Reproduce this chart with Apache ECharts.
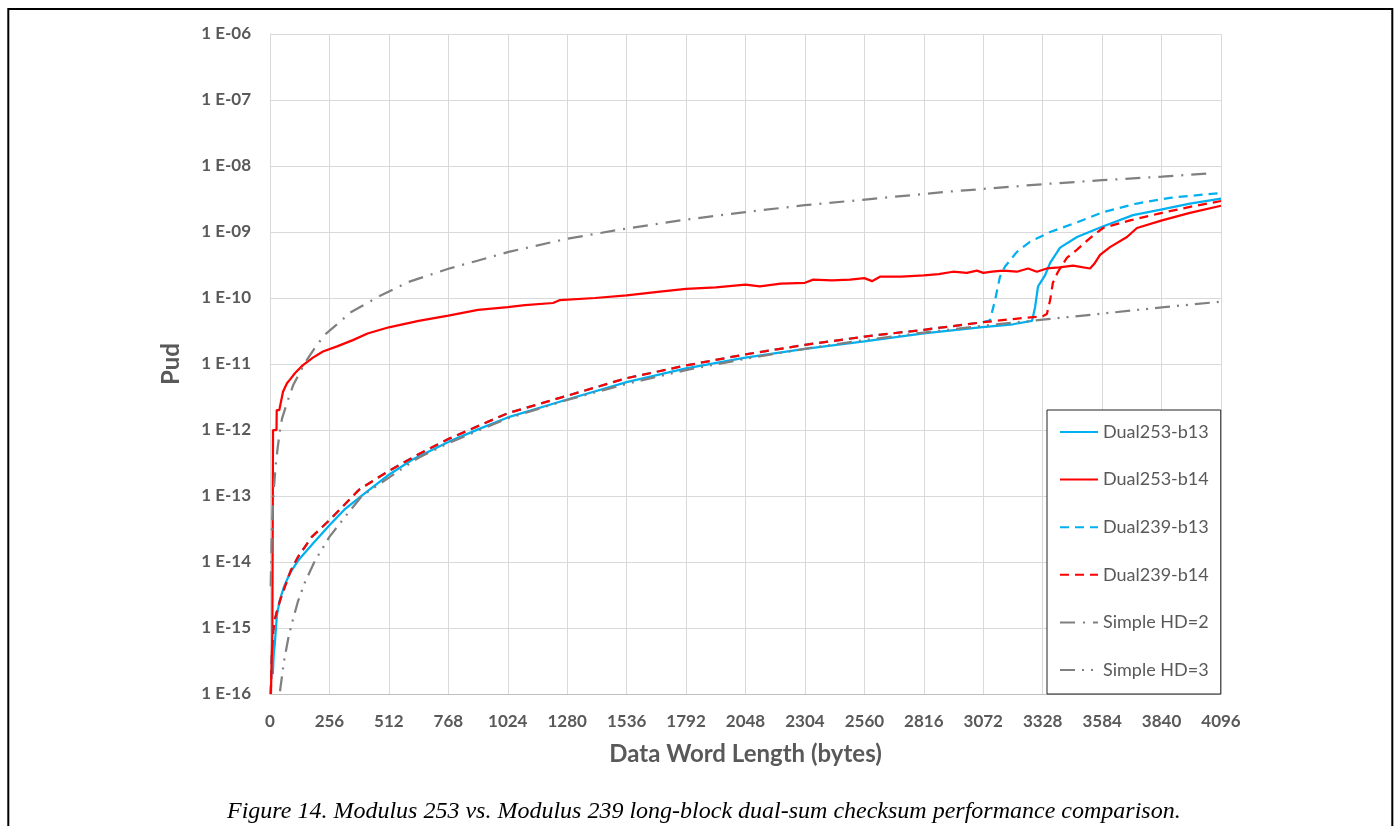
<!DOCTYPE html>
<html>
<head>
<meta charset="utf-8">
<script src="https://cdn.jsdelivr.net/npm/echarts@6/dist/echarts.min.js"></script>
<style>
  html, body { margin: 0; padding: 0; background: #fff; }
  #chart { width: 1397px; height: 826px; }
</style>
</head>
<body>
<div id="chart"></div>
<script>
// values (x = data word length in bytes, y = Pud)
const dual253b13X = [12, 16, 21, 30, 43, 60, 86, 121, 185, 256, 320, 401, 512, 616, 768, 904, 1024, 1280, 1536, 1792, 2048, 2304, 2560, 2816, 3058, 3200, 3282, 3295, 3308, 3338, 3360, 3403, 3476, 3584, 3717, 3842, 3962, 4096];
const dual253b13Y = [2e-16, 4e-16, 6e-16, 1.6e-15, 2.7e-15, 4.2e-15, 6.8e-15, 1.05e-14, 1.9e-14, 3.6e-14, 6.2e-14, 1.05e-13, 2.1e-13, 3.6e-13, 6.6e-13, 1.05e-12, 1.55e-12, 2.9e-12, 5.3e-12, 8.6e-12, 1.25e-11, 1.7e-11, 2.2e-11, 2.9e-11, 3.6e-11, 4.0e-11, 4.5e-11, 7.2e-11, 1.5e-10, 2.2e-10, 3.4e-10, 5.8e-10, 8.4e-10, 1.2e-9, 1.8e-9, 2.2e-9, 2.7e-9, 3.2e-9];

const dual253b14X = [4, 10, 12, 13, 28, 29, 40, 56, 73, 86, 108, 142, 185, 228, 289, 357, 420, 512, 640, 768, 896, 1024, 1098, 1219, 1249, 1400, 1536, 1680, 1792, 1920, 2048, 2110, 2200, 2304, 2340, 2420, 2498, 2560, 2593, 2627, 2720, 2816, 2880, 2942, 3001, 3045, 3072, 3110, 3157, 3217, 3265, 3303, 3346, 3400, 3459, 3532, 3553, 3575, 3618, 3691, 3734, 3842, 3962, 4096];
const dual253b14Y = [1e-16, 8e-16, 1e-13, 1e-12, 1e-12, 2e-12, 2e-12, 3.8e-12, 5.1e-12, 5.8e-12, 7.3e-12, 9.6e-12, 1.25e-11, 1.55e-11, 1.85e-11, 2.3e-11, 2.9e-11, 3.6e-11, 4.5e-11, 5.4e-11, 6.6e-11, 7.3e-11, 7.8e-11, 8.4e-11, 9.3e-11, 1.0e-10, 1.1e-10, 1.25e-10, 1.37e-10, 1.45e-10, 1.6e-10, 1.5e-10, 1.65e-10, 1.7e-10, 1.9e-10, 1.85e-10, 1.9e-10, 2.0e-10, 1.8e-10, 2.1e-10, 2.1e-10, 2.2e-10, 2.3e-10, 2.5e-10, 2.4e-10, 2.6e-10, 2.4e-10, 2.5e-10, 2.6e-10, 2.5e-10, 2.8e-10, 2.5e-10, 2.8e-10, 2.9e-10, 3.1e-10, 2.8e-10, 3.4e-10, 4.5e-10, 5.9e-10, 8.4e-10, 1.15e-9, 1.5e-9, 1.95e-9, 2.5e-9];

const dual239b13X = [3, 8, 14, 22, 30, 43, 65, 90, 121, 180, 256, 384, 512, 640, 768, 1024, 1280, 1536, 1792, 2048, 2304, 2560, 2816, 3072, 3101, 3123, 3144, 3166, 3217, 3273, 3360, 3476, 3588, 3734, 3876, 4096];
const dual239b13Y = [1e-16, 4e-16, 9e-16, 1.4e-15, 1.8e-15, 2.6e-15, 4.3e-15, 7.5e-15, 1.2e-14, 2.4e-14, 4.3e-14, 1.25e-13, 2.4e-13, 4.3e-13, 7.3e-13, 1.8e-12, 3.3e-12, 6.1e-12, 9.5e-12, 1.4e-11, 1.95e-11, 2.6e-11, 3.3e-11, 4.3e-11, 4.6e-11, 9.3e-11, 2.1e-10, 3.0e-10, 5.0e-10, 7.1e-10, 1.0e-9, 1.4e-9, 2.0e-9, 2.7e-9, 3.3e-9, 3.9e-9];

const dual239b14X = [3, 8, 14, 22, 30, 43, 65, 90, 121, 180, 256, 384, 512, 640, 768, 1024, 1280, 1536, 1792, 2048, 2304, 2560, 2816, 3072, 3200, 3328, 3346, 3360, 3372, 3394, 3433, 3476, 3532, 3588, 3704, 3842, 3962, 4096];
const dual239b14Y = [1e-16, 4e-16, 9e-16, 1.4e-15, 1.8e-15, 2.6e-15, 4.3e-15, 7.5e-15, 1.2e-14, 2.4e-14, 4.3e-14, 1.25e-13, 2.4e-13, 4.3e-13, 7.3e-13, 1.8e-12, 3.3e-12, 6.1e-12, 9.5e-12, 1.4e-11, 1.95e-11, 2.6e-11, 3.3e-11, 4.3e-11, 4.8e-11, 5.3e-11, 5.7e-11, 9.3e-11, 1.7e-10, 2.5e-10, 4.1e-10, 5.4e-10, 8.1e-10, 1.15e-9, 1.5e-9, 1.95e-9, 2.4e-9, 2.95e-9];

const hd2X = [3, 8, 16, 24, 32, 43, 52, 75, 100, 151, 200, 237, 300, 345, 400, 467, 596, 772, 897, 1028, 1279, 1536, 1796, 2048, 2304, 2563, 2929, 3328, 3584, 3842, 4064];
const hd2Y = [4.3e-15, 3e-14, 1.2e-13, 2.8e-13, 5e-13, 1e-12, 1.5e-12, 2.7e-12, 4.8e-12, 1.05e-11, 1.9e-11, 2.8e-11, 4.3e-11, 6.0e-11, 7.7e-11, 1.05e-10, 1.75e-10, 2.8e-10, 3.7e-10, 5e-10, 7.9e-10, 1.13e-9, 1.55e-9, 2.0e-9, 2.55e-9, 3.1e-9, 4.1e-9, 5.3e-9, 6.1e-9, 6.9e-9, 7.8e-9];

const hd3X = [43, 60, 80, 95, 120, 150, 194, 256, 330, 396, 512, 640, 768, 1024, 1280, 1536, 1792, 2048, 2304, 2560, 2816, 3072, 3328, 3584, 3840, 4096];
const hd3Y = [1.1e-16, 3.1e-16, 7.4e-16, 1.2e-15, 2.5e-15, 4.9e-15, 1.05e-14, 2.4e-14, 5.2e-14, 1e-13, 1.9e-13, 3.8e-13, 6.3e-13, 1.5e-12, 2.85e-12, 5.0e-12, 8.1e-12, 1.2e-11, 1.7e-11, 2.3e-11, 3.0e-11, 3.8e-11, 4.7e-11, 5.8e-11, 7.2e-11, 8.8e-11];

const xTicks = [0, 256, 512, 768, 1024, 1280, 1536, 1792, 2048, 2304, 2560, 2816, 3072, 3328, 3584, 3840, 4096];

const pairs = (xs, ys) => xs.map((x, i) => [x, ys[i]]);

const blue = '#00B0F0';
const red = '#FF0000';
const gray = '#808080';
const labelFont = 'Lato';

const chart = echarts.init(document.getElementById('chart'));

function line(name, xs, ys, color, type) {
  return {
    name: name,
    type: 'line',
    data: pairs(xs, ys),
    symbol: 'none',
    smooth: false,
    lineStyle: { color: color, width: 2.25, type: type },
    itemStyle: { color: color }
  };
}

chart.setOption({
  animation: false,
  title: {
    text: 'Figure 14. Modulus 253 vs. Modulus 239 long-block dual-sum checksum performance comparison.',
    left: 227,
    top: 800,
    padding: 0,
    textStyle: {
      fontFamily: 'Liberation Serif',
      fontStyle: 'italic',
      fontWeight: 'normal',
      fontSize: 24,
      color: '#000'
    }
  },
  graphic: [{
    type: 'rect',
    shape: { x: 8.3, y: 9, width: 1384, height: 860 },
    style: { fill: 'none', stroke: '#000', lineWidth: 2 },
    silent: true
  }],
  grid: { left: 270, right: 176, top: 34, bottom: 132 },
  legend: {
    orient: 'vertical',
    left: 1047,
    top: 410,
    padding: [13, 12, 15, 12],
    itemWidth: 38,
    itemHeight: 14,
    itemGap: 29.6,
    borderColor: '#222',
    borderWidth: 1,
    backgroundColor: '#fff',
    itemStyle: { opacity: 0 },
    textStyle: { fontFamily: labelFont, fontSize: 18, color: '#595959' },
    data: ['Dual253-b13', 'Dual253-b14', 'Dual239-b13', 'Dual239-b14', 'Simple HD=2', 'Simple HD=3']
  },
  xAxis: {
    type: 'value',
    min: 0,
    max: 4096,
    interval: 256,
    name: 'Data Word Length (bytes)',
    nameLocation: 'middle',
    nameGap: 48,
    nameTextStyle: { fontFamily: labelFont, fontSize: 24, fontWeight: 'bold', color: '#595959' },
    axisLine: { show: true, lineStyle: { color: '#bfbfbf', width: 1 } },
    axisTick: { show: false },
    axisLabel: {
      margin: 19,
      fontFamily: labelFont,
      fontSize: 17,
      fontWeight: 'bold',
      color: '#595959',
      formatter: v => (xTicks.indexOf(v) >= 0 ? String(v) : '')
    },
    splitLine: { show: true, lineStyle: { color: '#d9d9d9', width: 1 } }
  },
  yAxis: {
    type: 'log',
    logBase: 10,
    min: 1e-16,
    max: 1e-6,
    interval: 1,
    name: 'Pud',
    nameLocation: 'middle',
    nameGap: 87,
    nameRotate: 90,
    nameTextStyle: { fontFamily: labelFont, fontSize: 24, fontWeight: 'bold', color: '#595959' },
    axisLine: { show: true, lineStyle: { color: '#d9d9d9', width: 1 } },
    axisTick: { show: false },
    axisLabel: {
      margin: 19,
      fontFamily: labelFont,
      fontSize: 17,
      fontWeight: 'bold',
      color: '#595959',
      formatter: v => {
        const e = Math.round(-Math.log10(v));
        return '1 E-' + (e < 10 ? '0' + e : String(e));
      }
    },
    splitLine: { show: true, lineStyle: { color: '#d9d9d9', width: 1 } }
  },
  series: [
    line('Dual253-b13', dual253b13X, dual253b13Y, blue, 'solid'),
    line('Dual253-b14', dual253b14X, dual253b14Y, red, 'solid'),
    line('Dual239-b13', dual239b13X, dual239b13Y, blue, [9, 6]),
    line('Dual239-b14', dual239b14X, dual239b14Y, red, [9, 6]),
    line('Simple HD=2', hd2X, hd2Y, gray, [15, 8, 2, 8]),
    line('Simple HD=3', hd3X, hd3Y, gray, [15, 7, 2, 7, 2, 7])
  ]
});
</script>
</body>
</html>
